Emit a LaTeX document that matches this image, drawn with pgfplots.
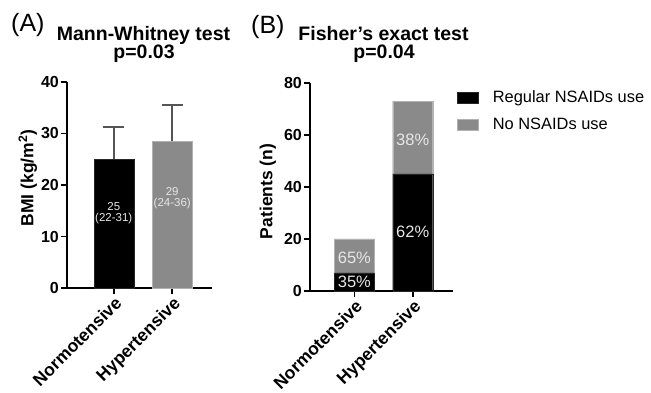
\documentclass[border=0pt]{standalone}
\usepackage{fontspec}
\setmainfont{Liberation Sans}
\usepackage{pgfplots}
\pgfplotsset{compat=1.18}
\definecolor{bgray}{HTML}{8A8A8A}
\definecolor{ebgray}{HTML}{555555}
\definecolor{lbl}{HTML}{E6E6E6}
\pgfplotsset{
  myaxis/.style={
    scale only axis,
    axis lines=left,
    axis line style={line width=1.6pt,-},
    every tick/.style={line width=1.6pt,black},
    major tick length=6pt,
    tick align=outside,
    xtick={0,1},
    xticklabels={Normotensive,Hypertensive},
    xticklabel style={rotate=45,anchor=north east,font=\bfseries\fontsize{17.5}{17.5}\selectfont,inner sep=1pt},
    yticklabel style={font=\bfseries\fontsize{16}{16}\selectfont,inner sep=2pt},
    /pgf/number format/assume math mode=true,
    ylabel style={font=\bfseries\fontsize{17.5}{17.5}\selectfont,rotate=0},
    clip=false,
  }
}
\begin{document}
\begin{tikzpicture}
\useasboundingbox (0pt,0pt) rectangle (651pt,393pt);
% Titles
\node[anchor=base west,inner sep=0pt,font=\fontsize{25}{25}\selectfont] at (11pt,361pt) {(A)};
\node[anchor=base,inner sep=0pt,font=\bfseries\fontsize{19.5}{19.5}\selectfont] at (143.5pt,352pt) {Mann-Whitney test};
\node[anchor=base,inner sep=0pt,font=\bfseries\fontsize{19.5}{19.5}\selectfont] at (144pt,334pt) {p=0.03};
\node[anchor=base west,inner sep=0pt,font=\fontsize{25}{25}\selectfont] at (251pt,359pt) {(B)};
\node[anchor=base,inner sep=0pt,font=\bfseries\fontsize{19.5}{19.5}\selectfont] at (383.5pt,352pt) {Fisher's exact test};
\node[anchor=base,inner sep=0pt,font=\bfseries\fontsize{19.5}{19.5}\selectfont] at (384pt,334pt) {p=0.04};

% Panel A
\begin{axis}[myaxis,
  at={(67pt,105pt)}, anchor=south west,
  width=145pt, height=206pt,
  xmin=-0.8, xmax=1.68,
  ymin=0, ymax=40,
  ytick={0,10,20,30,40},
  ylabel={BMI (kg/m\textsuperscript{2})},
  ylabel style={at={(axis description cs:-0.27,0.534)},anchor=center},
]
\addplot[ybar, bar shift=0pt, bar width=40pt, fill=black, draw=black!85,
  error bars/.cd, y dir=plus, y explicit,
  error bar style={line width=1.8pt,color=ebgray},
  error mark options={rotate=90,mark size=10.5pt,line width=1.8pt,color=ebgray}]
  coordinates {(0,25) +- (0,6.3)};
\addplot[ybar, bar shift=0pt, bar width=40pt, fill=bgray, draw=black!30,
  error bars/.cd, y dir=plus, y explicit,
  error bar style={line width=1.8pt,color=ebgray},
  error mark options={rotate=90,mark size=10.5pt,line width=1.8pt,color=ebgray}]
  coordinates {(1,28.5) +- (0,7.0)};
\coordinate (la) at (axis cs:0,14.6);
\coordinate (lb) at (axis cs:1,17.4);
\end{axis}
\node[align=center,text=lbl,font=\fontsize{11.5}{11}\selectfont] at (la) {25\\(22-31)};
\node[align=center,text=lbl,font=\fontsize{11.5}{11}\selectfont] at (lb) {29\\(24-36)};

% Panel B
\begin{axis}[myaxis,
  at={(310pt,102pt)}, anchor=south west,
  width=143pt, height=208pt,
  xmin=-0.76, xmax=1.69,
  ymin=0, ymax=80,
  ytick={0,20,40,60,80},
  ybar stacked, bar width=40pt,
  ylabel={Patients (n)},
  ylabel style={at={(axis description cs:-0.294,0.479)},anchor=center},
  legend style={at={(axis description cs:1.03,0.962)},anchor=north west,draw=none,fill=none,
    font=\fontsize{16.4}{16.4}\selectfont,row sep=14pt,inner sep=0pt,
    nodes={inner sep=0pt,anchor=west}},
  legend cell align=left,
  legend image code/.code={\fill[#1] (0pt,-5.5pt) rectangle (21pt,5.5pt);},
  /tikz/every odd column/.append style={column sep=14pt},
]
\addplot[fill=black, draw=black!85] coordinates {(0,7) (1,45)};
\addlegendentry{Regular NSAIDs use}
\addplot[fill=bgray, draw=black!30] coordinates {(0,13) (1,28)};
\addlegendentry{No NSAIDs use}
\coordinate (p1) at (axis cs:0,3.5);
\coordinate (p2) at (axis cs:0,12.6);
\coordinate (p3) at (axis cs:1,22.6);
\coordinate (p4) at (axis cs:1,58.3);
\end{axis}
\node[text=lbl,font=\fontsize{16.5}{16.5}\selectfont] at (p1) {35\%};
\node[text=lbl,font=\fontsize{16.5}{16.5}\selectfont] at (p2) {65\%};
\node[text=lbl,font=\fontsize{16.5}{16.5}\selectfont] at (p3) {62\%};
\node[text=lbl,font=\fontsize{16.5}{16.5}\selectfont] at (p4) {38\%};
\end{tikzpicture}
\end{document}
